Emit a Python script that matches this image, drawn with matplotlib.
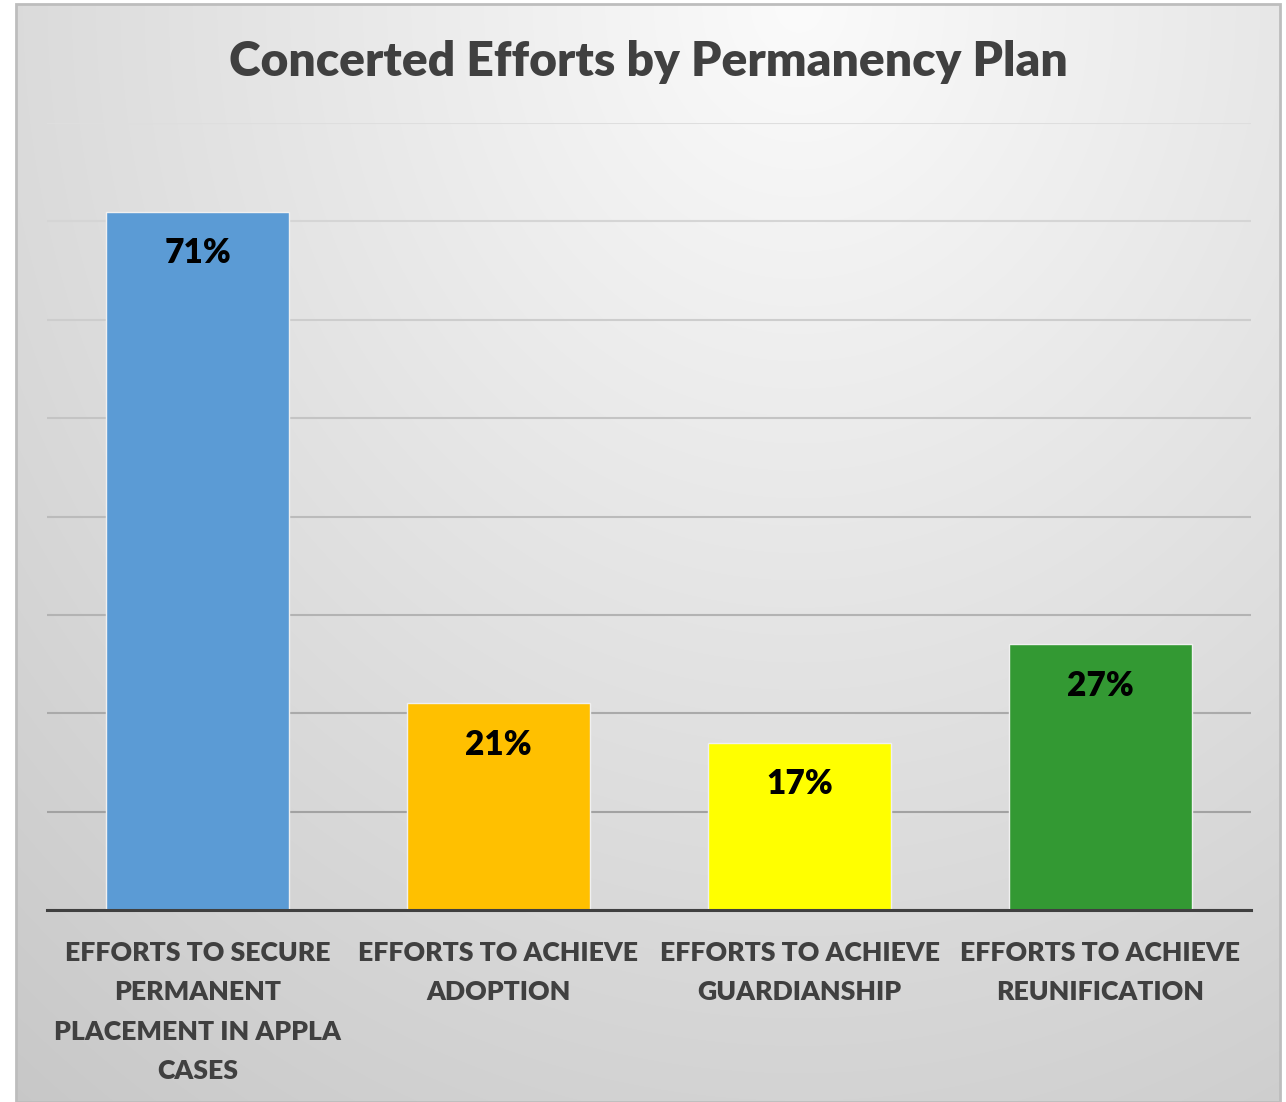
import numpy as np
import matplotlib
matplotlib.use("Agg")
import matplotlib.pyplot as plt
from matplotlib.patches import Rectangle

plt.rcParams['font.family'] = ['Lato', 'DejaVu Sans']

# ---- data ----
categories = [
    "EFFORTS TO SECURE\nPERMANENT\nPLACEMENT IN APPLA\nCASES",
    "EFFORTS TO ACHIEVE\nADOPTION",
    "EFFORTS TO ACHIEVE\nGUARDIANSHIP",
    "EFFORTS TO ACHIEVE\nREUNIFICATION",
]
values = [0.71, 0.21, 0.17, 0.27]
value_labels = ["71%", "21%", "17%", "27%"]
bar_colors = ["#5B9BD5", "#FFC000", "#FFFF00", "#339933"]
title = "Concerted Efforts by Permanency Plan"
y_ticks = [0.0, 0.1, 0.2, 0.3, 0.4, 0.5, 0.6, 0.7, 0.8]

W, H = 1286, 1102
fig = plt.figure(figsize=(W / 100, H / 100), dpi=100)
fig.patch.set_facecolor("white")

# ---- gradient panel background ----
px0, py0, px1, py1 = 16, 4, 1280, 1102
bg = fig.add_axes([px0 / W, 1 - py1 / H, (px1 - px0) / W, (py1 - py0) / H], zorder=0)
gx = np.linspace(0, 1, 400)
gy = np.linspace(1, 0, 400)
X, Y = np.meshgrid(gx, gy)
d = np.sqrt(((X - 0.62) / 1.0) ** 2 + ((Y - 1.0) / 1.3) ** 2)
val = np.clip(251 - 52 * d, 190, 252) / 255.0
img = np.dstack([val, val, val])
bg.imshow(img, extent=[0, 1, 0, 1], aspect="auto", interpolation="bilinear")
bg.set_xlim(0, 1)
bg.set_ylim(0, 1)
bg.axis("off")
bg.add_patch(Rectangle((0, 0), 1, 1, transform=bg.transAxes, fill=False,
                       edgecolor="#bdbdbd", linewidth=2.0, clip_on=False))

# ---- main axes ----
ax_left, ax_right = 47, 1251
ax_bottom_px, ax_top_px = 910, 123
ax = fig.add_axes([ax_left / W, 1 - ax_bottom_px / H,
                   (ax_right - ax_left) / W, (ax_bottom_px - ax_top_px) / H], zorder=1)
ax.patch.set_alpha(0)

x = np.arange(len(categories))
bars = ax.bar(x, values, width=0.605, color=bar_colors, edgecolor="#f0f0f0",
              linewidth=1.0, zorder=3)

ax.set_xlim(-0.5, len(categories) - 0.5)
ax.set_ylim(0, 0.8)
ax.set_yticks(y_ticks)
ax.yaxis.grid(True, zorder=0)
ax.set_axisbelow(True)
gls = ax.yaxis.get_gridlines()
for i, gl in enumerate(gls):
    frac = i / (len(gls) - 1)
    g = 0.60 + 0.27 * frac
    gl.set_color((g, g, g))
    gl.set_linewidth(1.5)
ax.tick_params(axis="y", left=False, labelleft=False)
ax.tick_params(axis="x", bottom=False, pad=19)
ax.set_xticks(x)
ax.set_xticklabels(categories, fontsize=19.2, fontweight=800, color="#404040",
                   linespacing=1.76)
for s in ["top", "right", "left"]:
    ax.spines[s].set_visible(False)
ax.spines["bottom"].set_color("#404040")
ax.spines["bottom"].set_linewidth(2.2)
ax.spines["bottom"].set_zorder(4)

for xi, v, lab in zip(x, values, value_labels):
    ax.annotate(lab, (xi, v), xytext=(0, -30), textcoords="offset points",
                ha="center", va="center", fontsize=24, fontweight=800,
                color="black", zorder=5)

fig.text((px0 + px1) / 2 / W, 1 - 62 / H, title, ha="center", va="center",
         fontsize=34.6, fontweight=800, color="#404040")

fig.savefig("out.png", dpi=100)
